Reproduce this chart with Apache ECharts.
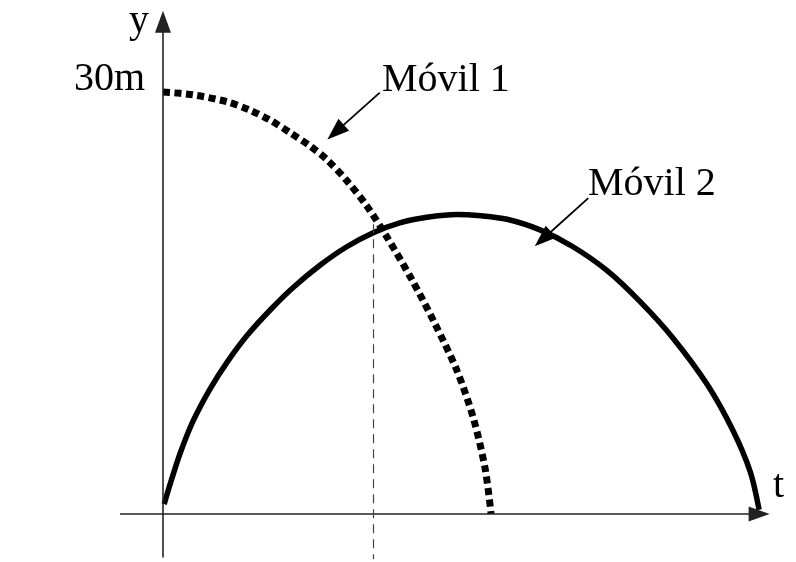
<!DOCTYPE html>
<html>
<head>
<meta charset="utf-8">
<script src="https://cdn.jsdelivr.net/npm/echarts@6/dist/echarts.min.js"></script>
<style>html,body{margin:0;padding:0;background:#fff}#c{width:796px;height:562px}</style>
</head>
<body>
<div id="c"></div>
<script>
// ---- data (t in arbitrary time units, y in metres) ----
const movil1T = [0, 0.51, 1.09, 1.48, 1.82, 2.16, 2.50, 2.78, 3.12, 3.46, 3.80, 4.22, 4.62, 4.99, 5.27, 5.47, 5.57];
const movil1Y = [30, 29.8, 29.3, 28.7, 28.0, 27.1, 26.15, 25.2, 23.7, 21.9, 19.7, 16.7, 13.5, 10.2, 6.8, 3.2, 0];
const movil2T = [0.02, 0.12, 0.29, 0.51, 0.80, 1.09, 1.43, 1.82, 2.21, 2.67, 3.12, 3.57, 4.02, 4.48, 4.99, 5.40, 5.84, 6.40, 6.96, 7.54, 8.10, 8.66, 9.24, 9.68, 9.97, 10.12];
const movil2Y = [0.7, 2.1, 4.3, 6.6, 8.9, 10.8, 12.7, 14.5, 16.1, 17.7, 19.0, 20.0, 20.7, 21.1, 21.3, 21.2, 20.95, 20.2, 19.0, 17.3, 15.1, 12.5, 9.2, 5.9, 3.0, 0.3];
const seriesNames = ['Móvil 1', 'Móvil 2'];
const axisLabels = ['t', 'y'];
const yMarkLabel = '30m';
const tCross = 3.57;      // time of the dashed guide
const yCross = 20.6;      // top of the dashed guide

const pairs = (ts, ys) => ts.map((t, i) => [t, ys[i]]);
const FONT = '"Liberation Serif", "Times New Roman", serif';
const INK = '#000';

const chart = echarts.init(document.getElementById('c'), null, {renderer: 'canvas'});
const arrowEnd = (coord, size) => ({coord, symbol: 'triangle', symbolSize: size});
const plainStart = (coord) => ({coord, symbol: 'none'});

chart.setOption({
  animation: false,
  backgroundColor: '#fff',
  grid: {left: 118.8, right: 20.4, top: 7.6, bottom: 3.0, containLabel: false},
  xAxis: {type: 'value', min: -0.75, max: 10.4, show: false},
  yAxis: {type: 'value', min: -3.2, max: 36, show: false},
  series: [
    {
      name: seriesNames[0], type: 'line', data: pairs(movil1T, movil1Y),
      smooth: 0.3, showSymbol: false, silent: true,
      lineStyle: {color: INK, width: 7, type: [7, 4.5], cap: 'butt'}
    },
    {
      name: seriesNames[1], type: 'line', data: pairs(movil2T, movil2Y),
      smooth: 0.3, showSymbol: false, silent: true,
      lineStyle: {color: INK, width: 5.5, cap: 'butt'}
    },
    {
      name: 'axes', type: 'line', data: [], silent: true,
      markLine: {
        silent: true, animation: false, label: {show: false}, emphasis: {disabled: true},
        lineStyle: {color: '#222', width: 1.6, type: 'solid'},
        data: [
          [plainStart([-0.73, 0]), arrowEnd([10.12, 0], [15, 21])],
          [plainStart([0, -3.1]), arrowEnd([0, 35.0], [16, 22])]
        ]
      }
    },
    {
      name: 'pointers', type: 'line', data: [], silent: true,
      markLine: {
        silent: true, animation: false, label: {show: false}, emphasis: {disabled: true},
        lineStyle: {color: INK, width: 1.8, type: 'solid'},
        data: [
          [plainStart([3.68, 29.95]), arrowEnd([2.93, 27.15], [16, 22])],
          [plainStart([7.22, 22.46]), arrowEnd([6.45, 19.55], [16, 22])]
        ]
      }
    },
    {
      name: 'cross', type: 'line', data: [], silent: true,
      markLine: {
        silent: true, animation: false, label: {show: false}, emphasis: {disabled: true},
        symbol: ['none', 'none'],
        lineStyle: {color: '#444', width: 1.2, type: [9, 6]},
        data: [[{coord: [tCross, yCross]}, {coord: [tCross, -3.2]}]]
      }
    }
  ],
  graphic: [
    {type: 'text', x: 139, y: 21, style: {text: axisLabels[1], font: '40px ' + FONT, fill: INK, align: 'center', verticalAlign: 'middle'}},
    {type: 'text', x: 773, y: 486, style: {text: axisLabels[0], font: '40px ' + FONT, fill: INK, align: 'left', verticalAlign: 'middle'}},
    {type: 'text', x: 145, y: 79, style: {text: yMarkLabel, font: '40px ' + FONT, fill: INK, align: 'right', verticalAlign: 'middle'}},
    {type: 'text', x: 382, y: 80, style: {text: seriesNames[0], font: '40px ' + FONT, fill: INK, align: 'left', verticalAlign: 'middle'}},
    {type: 'text', x: 588, y: 184, style: {text: seriesNames[1], font: '40px ' + FONT, fill: INK, align: 'left', verticalAlign: 'middle'}}
  ]
});
</script>
</body>
</html>
